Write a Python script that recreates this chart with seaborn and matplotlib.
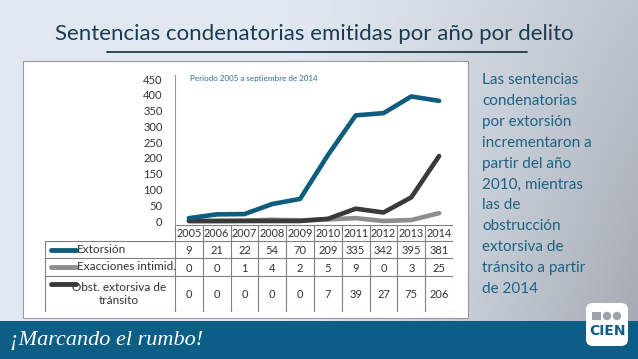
import numpy as np
import pandas as pd
import matplotlib.pyplot as plt
import seaborn as sns
from matplotlib.patches import Rectangle, FancyBboxPatch

years = [2005, 2006, 2007, 2008, 2009, 2010, 2011, 2012, 2013, 2014]
extorsion = [9, 21, 22, 54, 70, 209, 335, 342, 395, 381]
exacciones = [0, 0, 1, 4, 2, 5, 9, 0, 3, 25]
obstruccion = [0, 0, 0, 0, 0, 7, 39, 27, 75, 206]
series_names = ["Extorsión", "Exacciones intimid.", "Obst. extorsiva de\ntránsito"]
series_colors = ["#0f5d7e", "#8e8e8e", "#3a3a3a"]
y_ticks = [0, 50, 100, 150, 200, 250, 300, 350, 400, 450]

title = "Sentencias condenatorias emitidas por año por delito"
note = "Periodo 2005 a septiembre de 2014"
side_lines = ["Las sentencias", "condenatorias", "por extorsión",
              "incrementaron a", "partir del año", "2010, mientras",
              "las de", "obstrucción", "extorsiva de",
              "tránsito a partir", "de 2014"]

sns.set_style("white")
plt.rcParams['font.family'] = ['Lato', 'DejaVu Sans']

W, H = 638, 359
fig = plt.figure(figsize=(W / 100, H / 100), dpi=100)

# background (pixel coordinates)
bg = fig.add_axes([0, 0, 1, 1])
bg.set_xlim(0, W)
bg.set_ylim(H, 0)
bg.axis('off')
gx, gy = np.meshgrid(np.linspace(0, 1, 200), np.linspace(0, 1, 120))
t = np.clip((gx - 0.45) / 0.55, 0, 1) ** 1.2 * (0.55 + 0.45 * gy)
c0 = np.array([0.88, 0.91, 0.95])
c1 = np.array([0.64, 0.66, 0.69])
grad = c0 * (1 - t[..., None]) + c1 * t[..., None]
bg.imshow(grad, extent=(0, W, H, 0), aspect='auto', zorder=0)

bg.text(314, 34, title, ha='center', va='center', fontsize=16,
        color='#1d3c50', family=['Liberation Sans Narrow', 'Lato', 'DejaVu Sans'])
bg.plot([107, 527], [52, 52], color='#1d3c50', lw=1.3)

bg.add_patch(Rectangle((23, 61), 445, 257, fc='white', ec='#9a9a9a', lw=0.8, zorder=1))

bg.text(190, 78, note, fontsize=5.8, color='#2d6d8a', va='center', zorder=3)

for i, line in enumerate(side_lines):
    bg.text(482, 80 + i * 20.9, line, fontsize=11, color='#1d6385',
            va='center', ha='left')

# bottom banner
bg.add_patch(Rectangle((0, 321), W, 38, fc='#0d5e86', ec='none', zorder=2))
bg.text(10, 340, "¡Marcando el rumbo!", fontsize=16, color='white',
        style='italic', va='center', zorder=3,
        family=['Liberation Serif', 'DejaVu Serif'])
bg.add_patch(FancyBboxPatch((586, 303), 42, 43, boxstyle="round,pad=0,rounding_size=7",
                            fc='white', ec='none', zorder=3))
bg.add_patch(Rectangle((592, 312), 9, 8, fc='#9aa3ab', ec='none', zorder=4))
bg.add_patch(plt.Circle((607, 316), 4.2, fc='#9aa3ab', ec='none', zorder=4))
bg.add_patch(plt.Circle((617, 316), 4.2, fc='#9aa3ab', ec='none', zorder=4))
bg.text(607, 331, "CIEN", fontsize=10, fontweight='bold', color='#0d5e86',
        ha='center', va='center', zorder=4, family=['DejaVu Sans'])

# line chart
df = pd.DataFrame({
    'idx': list(range(len(years))) * 3,
    'valor': extorsion + exacciones + obstruccion,
    'serie': [series_names[0]] * 10 + [series_names[1]] * 10 + [series_names[2]] * 10,
})
draw_order = [series_names[1], series_names[2], series_names[0]]
palette = {n: c for n, c in zip(series_names, series_colors)}
ax = fig.add_axes([175 / W, 1 - 221 / H, 278 / W, (221 - 75) / H])
ax.patch.set_alpha(0)
sns.lineplot(data=df, x='idx', y='valor', hue='serie', hue_order=draw_order,
             palette=palette, lw=3.3, legend=False, ax=ax)
for ln in ax.get_lines():
    ln.set_clip_on(False)
    ln.set_solid_capstyle('round')
ax.set_xlim(-0.5, len(years) - 0.5)
ax.set_ylim(0, 463)
ax.set_yticks(y_ticks)
ax.set_xticks([])
ax.set_xlabel('')
ax.set_ylabel('')
ax.tick_params(axis='y', length=0, pad=9, labelsize=8, labelcolor='#333333')
for s in ['top', 'right', 'bottom']:
    ax.spines[s].set_visible(False)
ax.spines['left'].set_color('#9a9a9a')
ax.spines['left'].set_linewidth(0.8)
ax.spines['left'].set_bounds(-12, 463)

# data table below the chart
colw = 278 / 10
lab_w = (175 - 45) / colw
left = -0.5 - lab_w
tx = fig.add_axes([45 / W, 1 - 312 / H, (453 - 45) / W, (312 - 225) / H])
tx.set_xlim(left, len(years) - 0.5)
tx.set_ylim(312, 225)
tx.axis('off')
gc = '#808080'
row_edges = [225, 241, 258, 276, 312]
tx.plot([-0.5, len(years) - 0.5], [225, 225], color=gc, lw=0.8)
for yv in row_edges[1:]:
    tx.plot([left, len(years) - 0.5], [yv, yv], color=gc, lw=0.8)
for k in range(len(years) + 1):
    tx.plot([k - 0.5, k - 0.5], [225, 312], color=gc, lw=0.8)
tx.plot([left, left], [241, 312], color=gc, lw=0.8)

for i, yr in enumerate(years):
    tx.text(i, 233.5, str(yr), ha='center', va='center', fontsize=7.8, color='#333333')

rows = [extorsion, exacciones, obstruccion]
for r, (name, vals, col) in enumerate(zip(series_names, rows, series_colors)):
    y0, y1 = row_edges[r + 1], row_edges[r + 2]
    yc = (y0 + y1) / 2
    key_y = yc if r < 2 else y0 + 8
    tx.plot([left + 0.2, left + 1.1], [key_y, key_y], color=col, lw=3.5,
            solid_capstyle='round')
    if r < 2:
        tx.text(left + 1.15, yc, name, ha='left', va='center', fontsize=8.5, color='#333333')
    else:
        tx.text(left + 2.65, yc, name, ha='center', va='center', fontsize=8.5,
                color='#333333', multialignment='center', linespacing=1.25)
    for i, v in enumerate(vals):
        tx.text(i, yc + 1, str(v), ha='center', va='center', fontsize=8, color='#333333')

fig.savefig('out.png', dpi=100)
